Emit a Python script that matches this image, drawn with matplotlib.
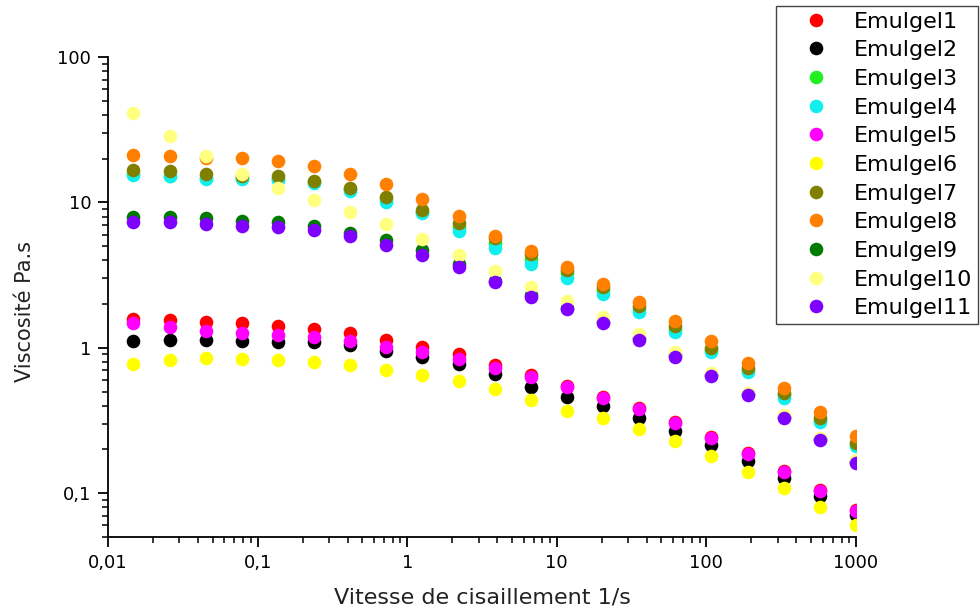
import matplotlib
matplotlib.use("Agg")
import matplotlib.pyplot as plt
from matplotlib.ticker import LogLocator, NullFormatter

plt.rcParams['font.family'] = ['DejaVu Sans']

shear_rate = [0.01479, 0.02579, 0.04498, 0.0784, 0.1368, 0.2385, 0.4159, 0.7253,
              1.265, 2.206, 3.846, 6.708, 11.7, 20.4, 35.56, 62.0, 108.1, 188.6,
              328.9, 573.6, 1000.0]

emulgel1 = [1.59, 1.56, 1.51, 1.47, 1.42, 1.35, 1.26, 1.13, 1.02, 0.90, 0.76, 0.65,
            0.55, 0.46, 0.385, 0.31, 0.245, 0.19, 0.142, 0.105, 0.077]
emulgel2 = [1.11, 1.135, 1.13, 1.12, 1.10, 1.10, 1.05, 0.95, 0.87, 0.77, 0.66, 0.54,
            0.46, 0.40, 0.33, 0.27, 0.214, 0.166, 0.128, 0.095, 0.071]
emulgel3 = [15.6, 15.3, 14.8, 14.8, 14.5, 13.8, 12.3, 10.5, 8.6, 6.8, 5.3, 4.1,
            3.25, 2.5, 1.85, 1.35, 0.97, 0.70, 0.47, 0.32, 0.215]
emulgel4 = [15.4, 15.1, 14.6, 14.5, 14.2, 13.5, 12.0, 10.0, 8.4, 6.4, 4.87, 3.78,
            3.0, 2.35, 1.75, 1.29, 0.93, 0.68, 0.45, 0.31, 0.21]
emulgel5 = [1.48, 1.38, 1.31, 1.26, 1.23, 1.18, 1.11, 1.02, 0.94, 0.84, 0.73, 0.63,
            0.54, 0.45, 0.38, 0.305, 0.24, 0.187, 0.14, 0.103, 0.075]
emulgel6 = [0.78, 0.83, 0.85, 0.84, 0.83, 0.80, 0.76, 0.705, 0.65, 0.59, 0.52, 0.44,
            0.37, 0.33, 0.275, 0.228, 0.18, 0.14, 0.108, 0.081, 0.060]
emulgel7 = [16.6, 16.4, 15.8, 15.3, 15.1, 14.0, 12.6, 10.9, 8.9, 7.2, 5.7, 4.45,
            3.45, 2.6, 1.95, 1.42, 1.0, 0.73, 0.49, 0.33, 0.222]
emulgel8 = [21.1, 20.8, 20.1, 20.1, 19.3, 17.8, 15.8, 13.3, 10.6, 8.1, 5.9, 4.6,
            3.58, 2.75, 2.05, 1.53, 1.12, 0.79, 0.53, 0.364, 0.247]
emulgel9 = [8.0, 8.0, 7.8, 7.5, 7.3, 6.9, 6.2, 5.5, 4.67, 3.8, 2.9, 2.3,
            1.88, 1.51, 1.16, 0.89, 0.65, 0.48, 0.335, 0.235, 0.165]
emulgel10 = [40.9, 28.5, 20.9, 15.8, 12.6, 10.4, 8.6, 7.05, 5.6, 4.38, 3.4, 2.64,
             2.11, 1.64, 1.24, 0.93, 0.67, 0.49, 0.345, 0.24, 0.168]
emulgel11 = [7.3, 7.3, 7.1, 6.9, 6.76, 6.5, 5.9, 5.13, 4.36, 3.58, 2.82, 2.25,
             1.84, 1.48, 1.14, 0.87, 0.64, 0.47, 0.33, 0.232, 0.162]

series = [emulgel1, emulgel2, emulgel3, emulgel4, emulgel5, emulgel6,
          emulgel7, emulgel8, emulgel9, emulgel10, emulgel11]
labels = ["Emulgel1", "Emulgel2", "Emulgel3", "Emulgel4", "Emulgel5", "Emulgel6",
          "Emulgel7", "Emulgel8", "Emulgel9", "Emulgel10", "Emulgel11"]
colors = ["#ff0000", "#000000", "#22ee22", "#11eeee", "#ff00ff", "#ffff00",
          "#808000", "#ff8000", "#007a00", "#ffff80", "#8000ff"]

x_ticks = [0.01, 0.1, 1, 10, 100, 1000]
x_ticklabels = ["0,01", "0,1", "1", "10", "100", "1000"]
y_ticks = [0.1, 1, 10, 100]
y_ticklabels = ["0,1", "1", "10", "100"]

fig = plt.figure(figsize=(9.8, 6.1), dpi=100)
ax = fig.add_axes([108 / 980, 1 - 537 / 610, (856 - 108) / 980, (537 - 57) / 610])

handles = []
for ys, lab, col in zip(series, labels, colors):
    h, = ax.plot(shear_rate, ys, linestyle='none', marker='o', ms=9.8,
                 markerfacecolor=col, markeredgecolor='none', label=lab)
    handles.append(h)

ax.set_xscale('log')
ax.set_yscale('log')
ax.set_xlim(0.01, 1000)
ax.set_ylim(0.05, 100)

ax.set_xticks(x_ticks)
ax.set_xticklabels(x_ticklabels)
ax.set_yticks(y_ticks)
ax.set_yticklabels(y_ticklabels)
ax.xaxis.set_minor_locator(LogLocator(base=10, subs=range(2, 10), numticks=20))
ax.yaxis.set_minor_locator(LogLocator(base=10, subs=range(2, 10), numticks=20))
ax.xaxis.set_minor_formatter(NullFormatter())
ax.yaxis.set_minor_formatter(NullFormatter())

for s in ['top', 'right']:
    ax.spines[s].set_visible(False)
for s in ['left', 'bottom']:
    ax.spines[s].set_linewidth(1.3)

ax.tick_params(which='major', direction='out', length=7, width=1.3, labelsize=13,
               pad=5, colors='black')
ax.tick_params(which='minor', direction='out', length=4.5, width=1.1)

ax.set_xlabel("Vitesse de cisaillement 1/s", fontsize=16, color='#222222')
ax.set_ylabel("Viscosité Pa.s", fontsize=15, color='#222222')
ax.xaxis.set_label_coords(0.5, -0.105)
ax.yaxis.set_label_coords(-0.098, 0.47)

leg = fig.legend(handles=handles, loc='upper left',
                 bbox_to_anchor=(776 / 980, 1 - 6 / 610),
                 bbox_transform=fig.transFigure,
                 fontsize=16, frameon=True, fancybox=False, shadow=False,
                 borderpad=0.25, handlelength=3.1, handletextpad=0.15,
                 labelspacing=0.39, borderaxespad=0, numpoints=1)
leg.get_frame().set_edgecolor('#444444')
leg.get_frame().set_linewidth(1.0)
leg.get_frame().set_alpha(1.0)

fig.savefig("out.png", dpi=100)
